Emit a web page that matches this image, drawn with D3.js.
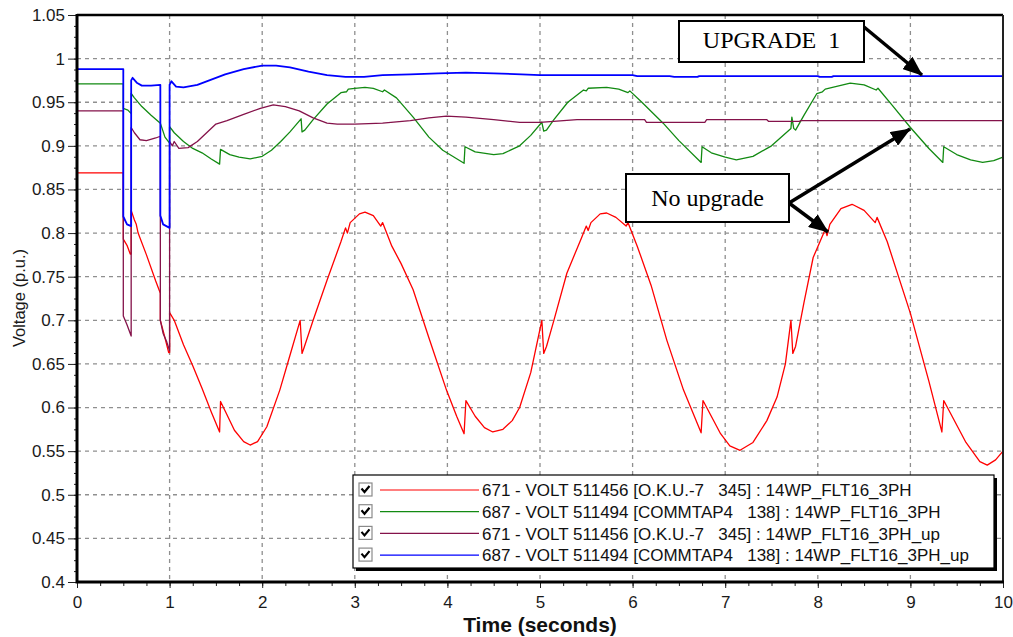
<!DOCTYPE html>
<meta charset="utf-8">
<style>
body {
  margin: 0;
  background: #fff;
  font-family: Arial, "Liberation Sans", sans-serif;
}
.grid line {
  stroke: #8f8f8f;
  stroke-width: 1.3;
  stroke-dasharray: 4,4;
}
.series {
  fill: none;
  stroke-linejoin: round;
}
.note {
  font-family: "Liberation Serif", "Times New Roman", serif;
  font-size: 24px;
}
</style>
<body>
<svg id="chart" width="1013" height="637"></svg>
<script src="https://cdn.jsdelivr.net/npm/d3@7"></script>
<script>

// [time (s), voltage (p.u.)]
var okuNoUp = [[0,0.869],[0.5,0.869],[0.5,0.793],[0.54,0.786],[0.575,0.776],[0.585,0.776],[0.585,0.826],
  [0.62,0.815],[0.64,0.81],[0.66,0.80],[0.75,0.775],[0.85,0.745],[0.9,0.731],[0.9,0.70],[0.95,0.68],
  [0.99,0.663],[1.0,0.663],[1.0,0.709],[1.05,0.70],[1.15,0.672],[1.25,0.648],[1.35,0.622],[1.45,0.595],
  [1.54,0.572],[1.55,0.607],[1.6,0.596],[1.7,0.574],[1.8,0.561],[1.87,0.557],[1.95,0.561],[2.05,0.578],
  [2.19,0.62],[2.3,0.66],[2.41,0.70],[2.43,0.662],[2.45,0.668],[2.55,0.70],[2.7,0.746],[2.85,0.79],
  [2.9,0.806],[2.92,0.80],[2.95,0.812],[3.05,0.822],[3.11,0.824],[3.2,0.82],[3.28,0.808],[3.3,0.812],
  [3.4,0.785],[3.5,0.765],[3.63,0.735],[3.8,0.68],[3.99,0.62],[4.1,0.59],[4.18,0.57],[4.2,0.608],
  [4.3,0.59],[4.4,0.577],[4.49,0.572],[4.6,0.575],[4.7,0.585],[4.78,0.60],[4.9,0.64],[5.02,0.70],
  [5.04,0.662],[5.07,0.67],[5.15,0.70],[5.29,0.754],[5.45,0.795],[5.5,0.808],[5.52,0.803],[5.55,0.812],
  [5.65,0.822],[5.72,0.823],[5.82,0.818],[5.93,0.808],[5.95,0.812],[6.05,0.785],[6.2,0.74],[6.37,0.677],
  [6.55,0.62],[6.74,0.571],[6.76,0.608],[6.85,0.59],[6.95,0.57],[7.05,0.556],[7.16,0.551],[7.3,0.56],
  [7.45,0.585],[7.56,0.612],[7.65,0.65],[7.71,0.70],[7.73,0.662],[7.76,0.67],[7.85,0.72],[7.95,0.772],
  [8.08,0.804],[8.1,0.797],[8.13,0.81],[8.25,0.828],[8.37,0.833],[8.5,0.826],[8.62,0.812],[8.64,0.818],
  [8.75,0.79],[9.0,0.708],[9.2,0.63],[9.34,0.572],[9.36,0.608],[9.45,0.59],[9.6,0.56],[9.75,0.538],
  [9.83,0.534],[9.92,0.54],[10,0.55]];

var commNoUp = [[0,0.971],[0.5,0.971],[0.5,0.943],[0.55,0.941],[0.585,0.937],[0.585,0.96],[0.62,0.955],
  [0.7,0.945],[0.8,0.935],[0.9,0.926],[0.95,0.91],[1.0,0.903],[1.0,0.922],[1.05,0.915],[1.15,0.905],
  [1.25,0.897],[1.35,0.892],[1.45,0.885],[1.54,0.879],[1.55,0.896],[1.65,0.89],[1.75,0.887],[1.87,0.885],
  [2.0,0.888],[2.1,0.895],[2.2,0.905],[2.3,0.916],[2.42,0.931],[2.43,0.916],[2.46,0.918],[2.55,0.93],
  [2.7,0.948],[2.85,0.961],[2.91,0.962],[2.93,0.965],[3.0,0.966],[3.11,0.967],[3.2,0.966],[3.3,0.962],
  [3.32,0.964],[3.45,0.955],[3.63,0.933],[3.8,0.91],[3.95,0.895],[4.18,0.88],[4.19,0.899],[4.3,0.893],
  [4.5,0.89],[4.6,0.891],[4.78,0.9],[4.9,0.912],[5.02,0.927],[5.04,0.917],[5.07,0.918],[5.15,0.93],
  [5.3,0.95],[5.47,0.964],[5.5,0.963],[5.52,0.966],[5.72,0.967],[5.85,0.965],[5.95,0.961],[5.97,0.963],
  [6.1,0.95],[6.33,0.926],[6.5,0.906],[6.74,0.881],[6.75,0.899],[6.85,0.892],[7.0,0.887],[7.12,0.884],
  [7.3,0.888],[7.5,0.9],[7.71,0.92],[7.72,0.933],[7.74,0.92],[7.76,0.918],[7.85,0.935],[7.99,0.96],
  [8.05,0.962],[8.08,0.965],[8.35,0.972],[8.5,0.97],[8.63,0.964],[8.65,0.966],[8.8,0.947],[9.0,0.921],
  [9.2,0.897],[9.35,0.881],[9.36,0.899],[9.5,0.89],[9.65,0.884],[9.78,0.881],[9.9,0.883],[10,0.887]];

var okuUp = [[0,0.94],[0.5,0.94],[0.5,0.705],[0.54,0.695],[0.585,0.682],[0.585,0.921],[0.62,0.915],
  [0.68,0.907],[0.75,0.906],[0.85,0.909],[0.9,0.911],[0.9,0.70],[0.93,0.685],[0.97,0.675],[1.0,0.665],
  [1.0,0.905],[1.03,0.9],[1.05,0.905],[1.1,0.897],[1.2,0.898],[1.3,0.905],[1.4,0.915],[1.5,0.925],
  [1.62,0.929],[1.8,0.936],[1.98,0.943],[2.12,0.947],[2.25,0.945],[2.4,0.94],[2.55,0.932],[2.7,0.926],
  [2.81,0.925],[3.0,0.925],[3.3,0.926],[3.6,0.929],[3.8,0.932],[3.99,0.934],[4.2,0.933],[4.5,0.93],
  [4.78,0.927],[5.0,0.927],[5.4,0.93],[6.13,0.93],[6.15,0.927],[6.78,0.927],[6.8,0.93],[7.45,0.93],
  [7.47,0.928],[7.8,0.928],[7.82,0.929],[10,0.929]];

var commUp = [[0,0.988],[0.5,0.988],[0.5,0.819],[0.54,0.81],[0.585,0.808],[0.585,0.975],[0.6,0.978],
  [0.65,0.972],[0.7,0.969],[0.8,0.969],[0.9,0.97],[0.9,0.82],[0.93,0.81],[1.0,0.806],[1.0,0.97],
  [1.02,0.974],[1.07,0.968],[1.15,0.967],[1.3,0.97],[1.45,0.976],[1.6,0.982],[1.8,0.988],[2.0,0.992],
  [2.15,0.992],[2.3,0.99],[2.5,0.985],[2.7,0.981],[2.9,0.979],[3.1,0.979],[3.3,0.981],[3.6,0.982],
  [3.9,0.983],[4.2,0.984],[4.5,0.983],[4.8,0.982],[5.0,0.981],[6.0,0.981],[6.05,0.98],[6.4,0.98],
  [6.45,0.979],[6.7,0.979],[6.72,0.98],[8.0,0.98],[8.02,0.979],[8.15,0.979],[8.17,0.98],[10,0.98]];

var seriesNames = [
  "671 - VOLT 511456 [O.K.U.-7\u00a0\u00a0\u00a0345] : 14WP_FLT16_3PH",
  "687 - VOLT 511494 [COMMTAP4\u00a0\u00a0\u00a0138] : 14WP_FLT16_3PH",
  "671 - VOLT 511456 [O.K.U.-7\u00a0\u00a0\u00a0345] : 14WP_FLT16_3PH_up",
  "687 - VOLT 511494 [COMMTAP4\u00a0\u00a0\u00a0138] : 14WP_FLT16_3PH_up"
];
var seriesData = [okuNoUp, commNoUp, okuUp, commUp];
var colors = ["#ff0000", "#128a12", "#84124a", "#0000ff"];
var xTicks = [0,1,2,3,4,5,6,7,8,9,10];
var yTicks = [0.4,0.45,0.5,0.55,0.6,0.65,0.7,0.75,0.8,0.85,0.9,0.95,1,1.05];

var svg = d3.select("#chart"),
    plotL = 77, plotR = 1003, plotT = 15, plotB = 582;

var x = d3.scaleLinear().domain([0, 10]).range([plotL, plotR]),
    y = d3.scaleLinear().domain([0.4, 1.05]).range([plotB, plotT]);

// grid
var grid = svg.append("g").attr("class", "grid");
grid.selectAll(".gx")
    .data(xTicks.filter(function(d) { return d > 0 && d < 10; }))
  .enter().append("line")
    .attr("x1", function(d) { return x(d); })
    .attr("x2", function(d) { return x(d); })
    .attr("y1", plotT).attr("y2", plotB);
grid.selectAll(".gy")
    .data(yTicks.filter(function(d) { return d > 0.41 && d < 1.04; }))
  .enter().append("line")
    .attr("y1", function(d) { return y(d); })
    .attr("y2", function(d) { return y(d); })
    .attr("x1", plotL).attr("x2", plotR);

// series
var line = d3.line()
    .x(function(d) { return x(d[0]); })
    .y(function(d) { return y(d[1]); });

svg.append("g").selectAll("path")
    .data(seriesData)
  .enter().append("path")
    .attr("class", "series")
    .attr("stroke", function(d, i) { return colors[i]; })
    .attr("stroke-width", function(d, i) { return i == 3 ? 1.8 : 1.3; })
    .attr("d", line);

// axes
svg.append("g")
    .attr("transform", "translate(0," + plotB + ")")
    .call(d3.axisBottom(x).tickValues(d3.range(0, 10.01, 0.25)).tickSize(4).tickFormat(""));
svg.append("g")
    .attr("transform", "translate(0," + plotB + ")")
    .call(d3.axisBottom(x).tickValues(xTicks).tickSize(6).tickPadding(8).tickFormat(d3.format("d")));
svg.append("g")
    .attr("transform", "translate(" + plotL + ",0)")
    .call(d3.axisLeft(y).tickValues(d3.range(0.4, 1.0501, 0.0125)).tickSize(3).tickFormat(""));
svg.append("g")
    .attr("transform", "translate(" + plotL + ",0)")
    .call(d3.axisLeft(y).tickValues(yTicks).tickSize(9).tickPadding(3).tickFormat(function(d) { return +d.toFixed(2); }));

svg.selectAll(".domain").remove();
svg.selectAll(".tick line").attr("stroke", "#222").attr("stroke-width", 1);
svg.selectAll(".tick text")
    .style("font-size", "17px")
    .style("font-family", "Arial, 'Liberation Sans', sans-serif")
    .attr("fill", "#1a1a1a");

// frame
svg.append("path")
    .attr("d", "M" + plotL + "," + plotT + "H" + plotR)
    .attr("stroke", "#000").attr("stroke-width", 2.5);
svg.append("path")
    .attr("d", "M" + plotR + "," + plotT + "V" + plotB)
    .attr("stroke", "#222").attr("stroke-width", 2);
svg.append("path")
    .attr("d", "M" + plotL + "," + (plotT - 1) + "V" + plotB + "H" + (plotR + 1))
    .attr("fill", "none").attr("stroke", "#000").attr("stroke-width", 3);

// axis titles
svg.append("text")
    .attr("x", 540).attr("y", 632)
    .style("text-anchor", "middle")
    .style("font-weight", "bold")
    .style("font-size", "21px")
    .attr("fill", "#111")
    .text("Time (seconds)");
svg.append("text")
    .attr("transform", "translate(25,298) rotate(-90)")
    .style("text-anchor", "middle")
    .style("font-size", "16.5px")
    .attr("fill", "#1a1a1a")
    .text("Voltage (p.u.)");

// legend
var lg = svg.append("g").attr("transform", "translate(353,475)");
lg.append("rect")
    .attr("x", 3).attr("y", 3).attr("width", 641).attr("height", 93)
    .attr("fill", "#000");
lg.append("rect")
    .attr("x", 0).attr("y", 0).attr("width", 641).attr("height", 93)
    .attr("fill", "#fff").attr("stroke", "#000").attr("stroke-width", 1.2);

var item = lg.selectAll(".legend")
    .data(seriesNames)
  .enter().append("g")
    .attr("class", "legend")
    .attr("transform", function(d, i) { return "translate(0," + (15 + i * 21.7) + ")"; });
item.append("rect")
    .attr("x", 6).attr("y", -7).attr("width", 13).attr("height", 13)
    .attr("fill", "#fff").attr("stroke", "#8a8a8a").attr("stroke-width", 1.2);
item.append("path")
    .attr("d", "M8.5,-1.5 L11.5,2 L16.5,-4")
    .attr("fill", "none").attr("stroke", "#000").attr("stroke-width", 2.2);
item.append("line")
    .attr("x1", 27).attr("x2", 126)
    .attr("stroke", function(d, i) { return colors[i]; })
    .attr("stroke-width", 1.2);
item.append("text")
    .attr("x", 129).attr("dy", "0.36em")
    .style("font-size", "17px")
    .attr("fill", "#111")
    .text(function(d) { return d; });

// annotations
svg.append("defs").append("marker")
    .attr("id", "head")
    .attr("markerUnits", "userSpaceOnUse")
    .attr("viewBox", "0 0 20 16")
    .attr("refX", 19).attr("refY", 8)
    .attr("markerWidth", 20).attr("markerHeight", 16)
    .attr("orient", "auto")
  .append("path")
    .attr("d", "M0,0 L20,8 L0,16 Z")
    .attr("fill", "#000");

var arrows = [[864, 27, 922, 75], [789, 203, 910, 129], [789, 203, 828, 232]];
svg.selectAll(".arrow")
    .data(arrows)
  .enter().append("line")
    .attr("class", "arrow")
    .attr("x1", function(d) { return d[0]; })
    .attr("y1", function(d) { return d[1]; })
    .attr("x2", function(d) { return d[2]; })
    .attr("y2", function(d) { return d[3]; })
    .attr("stroke", "#000").attr("stroke-width", 3.5)
    .attr("marker-end", "url(#head)");

var notes = [
  {label: "UPGRADE\u00a0\u00a01", x0: 679, y0: 21, x1: 864, y1: 62, base: 48},
  {label: "No upgrade", x0: 626, y0: 174, x1: 789, y1: 222, base: 206}
];
var note = svg.selectAll(".notebox")
    .data(notes)
  .enter().append("g")
    .attr("class", "notebox");
note.append("rect")
    .attr("x", function(d) { return d.x0; })
    .attr("y", function(d) { return d.y0; })
    .attr("width", function(d) { return d.x1 - d.x0; })
    .attr("height", function(d) { return d.y1 - d.y0; })
    .attr("fill", "#fff").attr("stroke", "#000").attr("stroke-width", 2);
note.append("text")
    .attr("class", "note")
    .attr("x", function(d) { return (d.x0 + d.x1) / 2; })
    .attr("y", function(d) { return d.base; })
    .style("text-anchor", "middle")
    .text(function(d) { return d.label; });

</script>
</body>
</html>
